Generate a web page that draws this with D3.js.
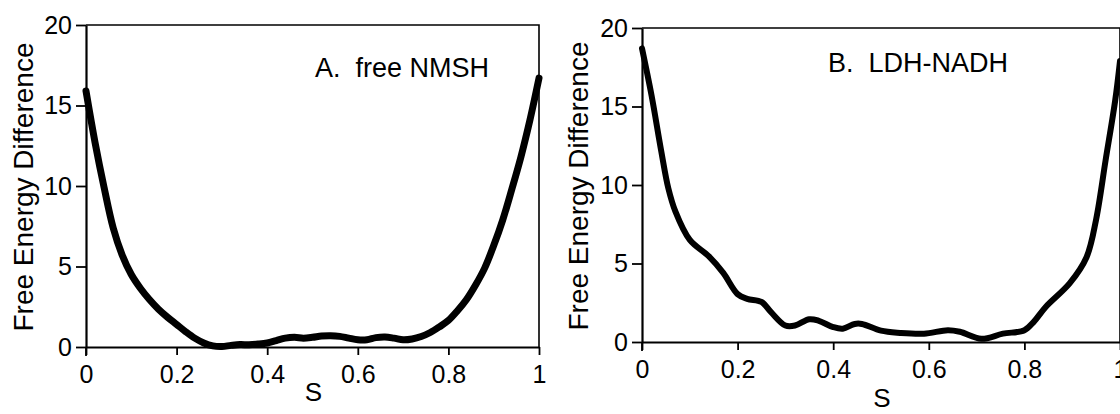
<!DOCTYPE html>
<html>
<head>
<meta charset="utf-8">
<script src="https://cdn.jsdelivr.net/npm/d3@7"></script>
<style>
  html, body { margin: 0; padding: 0; background: #fff; }
  svg { display: block; font-family: "Liberation Sans", Arial, sans-serif; }
  .pre { white-space: pre; }
</style>
</head>
<body>
<svg id="chart" width="1120" height="414"></svg>
<script>
// ---- data ----
const xTicks = [0, 0.2, 0.4, 0.6, 0.8, 1];
const yTicks = [0, 5, 10, 15, 20];
const xLabel = "S";
const yLabel = "Free Energy Difference";
const panelTitles = ["A.  free NMSH", "B.  LDH-NADH"];

const sA = [0.00,0.02,0.04,0.06,0.08,0.10,0.12,0.14,0.16,0.18,0.20,0.22,0.24,0.26,0.28,0.30,0.32,0.34,0.36,0.38,0.40,0.42,0.44,0.46,0.48,0.50,0.52,0.54,0.56,0.58,0.60,0.62,0.64,0.66,0.68,0.70,0.72,0.74,0.76,0.78,0.80,0.82,0.84,0.86,0.88,0.90,0.92,0.94,0.96,0.98,1.00];
const gA = [15.9,12.7,9.9,7.4,5.7,4.5,3.65,2.95,2.35,1.85,1.4,0.95,0.55,0.25,0.07,0.03,0.1,0.15,0.14,0.18,0.25,0.4,0.55,0.6,0.55,0.6,0.68,0.7,0.66,0.55,0.45,0.45,0.58,0.62,0.55,0.45,0.5,0.65,0.9,1.25,1.65,2.25,2.95,3.85,4.9,6.3,7.9,9.8,11.8,14.1,16.7];

const sB = [0.00,0.02,0.04,0.055,0.07,0.10,0.14,0.17,0.20,0.22,0.25,0.27,0.30,0.32,0.35,0.37,0.40,0.42,0.445,0.46,0.50,0.54,0.59,0.64,0.665,0.71,0.755,0.80,0.82,0.845,0.895,0.93,0.95,0.97,0.99,1.00];
const gB = [18.7,15.7,12.2,9.8,8.3,6.5,5.45,4.4,3.05,2.75,2.55,1.9,1.05,1.05,1.45,1.35,0.95,0.85,1.15,1.15,0.72,0.58,0.53,0.75,0.65,0.2,0.53,0.75,1.3,2.25,3.75,5.4,7.8,11.6,15.4,17.9];

// ---- layout ----
const panels = [
  { x0: 86, x1: 539, y0: 347, y1: 25, s: sA, g: gA, title: panelTitles[0], tx: 315, ty: 77, lw: 7, ylx: 33, sy: 401 },
  { x0: 642, x1: 1120, y0: 342, y1: 28, s: sB, g: gB, title: panelTitles[1], tx: 828, ty: 72, lw: 6, ylx: 588, sy: 407 }
];

const svg = d3.select("#chart");

panels.forEach(p => {
  const x = d3.scaleLinear().domain([0, 1]).range([p.x0, p.x1]);
  const y = d3.scaleLinear().domain([0, 20]).range([p.y0, p.y1]);
  const g = svg.append("g");

  // frame (top + right)
  g.append("path")
    .attr("d", `M${p.x0},${p.y1}H${p.x1}V${p.y0}`)
    .attr("fill", "none").attr("stroke", "#000").attr("stroke-width", 1.6);

  const xAxis = g.append("g").attr("transform", `translate(0,${p.y0})`)
    .call(d3.axisBottom(x).tickValues(xTicks).tickFormat(d3.format("")).tickSize(8).tickSizeOuter(0).tickPadding(10));
  const yAxis = g.append("g").attr("transform", `translate(${p.x0},0)`)
    .call(d3.axisLeft(y).tickValues(yTicks).tickSize(10).tickSizeOuter(0).tickPadding(4));

  [xAxis, yAxis].forEach(a => {
    a.select(".domain").attr("stroke-width", 2.2);
    a.selectAll(".tick line").attr("stroke-width", 1.8);
    a.selectAll(".tick text").attr("font-size", 25).attr("font-family", "Liberation Sans, Arial, sans-serif").attr("fill", "#000");
  });
  // extend y axis slightly below x axis like reference
  g.append("line").attr("x1", p.x0).attr("x2", p.x0).attr("y1", p.y0).attr("y2", p.y0 + 9)
    .attr("stroke", "#000").attr("stroke-width", 1.8);

  // curve
  const pts = p.s.map((s, i) => [s, p.g[i]]);
  g.append("path").datum(pts)
    .attr("fill", "none").attr("stroke", "#000")
    .attr("stroke-width", p.lw).attr("stroke-linejoin", "round").attr("stroke-linecap", "round")
    .attr("d", d3.line().x(d => x(d[0])).y(d => y(d[1])).curve(d3.curveCatmullRom.alpha(0.5)));

  // panel title
  g.append("text").attr("class", "pre").attr("x", p.tx).attr("y", p.ty)
    .attr("font-size", 27).text(p.title);

  // x label
  g.append("text").attr("x", (p.x0 + p.x1) / 2 + 1).attr("y", p.sy)
    .attr("text-anchor", "middle").attr("font-size", 26).text(xLabel);

  // y label
  g.append("text")
    .attr("transform", `translate(${p.ylx},${(p.y0 + p.y1) / 2 + 1}) rotate(-90)`)
    .attr("text-anchor", "middle").attr("font-size", 28).text(yLabel);
});
</script>
</body>
</html>
